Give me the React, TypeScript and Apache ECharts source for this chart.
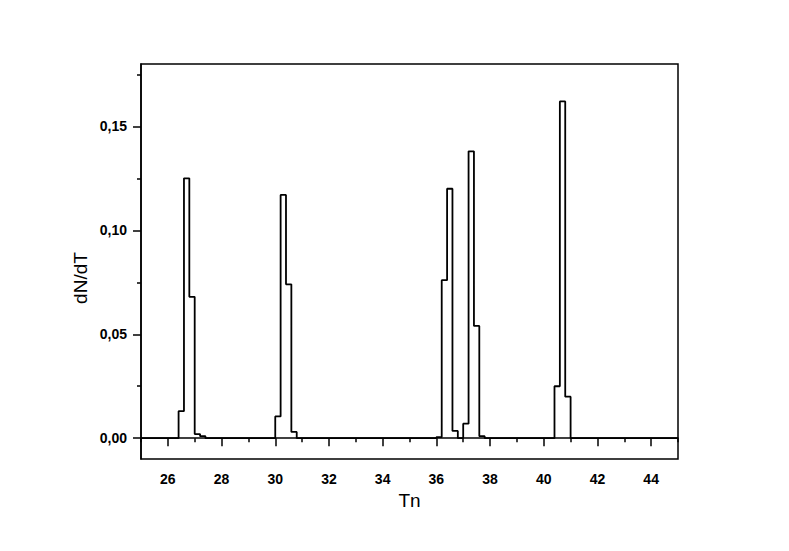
import React, { useEffect, useRef } from "react";
import * as echarts from "echarts";

// Histogram steps: left edge of each step and its height (step holds until next edge)
const stepX = [
  25.0, 26.4, 26.6, 26.8, 27.0, 27.2, 27.4,
  30.0, 30.2, 30.4, 30.6, 30.8,
  36.0, 36.2, 36.4, 36.6, 36.8, 37.0, 37.2, 37.4, 37.6, 37.8,
  40.4, 40.6, 40.8, 41.0, 45.0,
];
const stepY = [
  0, 0.013, 0.125, 0.068, 0.002, 0.001, 0,
  0.0105, 0.117, 0.074, 0.003, 0,
  0.0005, 0.076, 0.12, 0.0035, 0, 0.007, 0.138, 0.054, 0.001, 0,
  0.025, 0.162, 0.02, 0, 0,
];

const xMajorTicks = [26, 28, 30, 32, 34, 36, 38, 40, 42, 44];
const xMinorTicks = [25, 27, 29, 31, 33, 35, 37, 39, 41, 43, 45];
const yMajorTicks = [0, 0.05, 0.1, 0.15];
const yMinorTicks = [0.025, 0.075, 0.125, 0.175];

const X_MIN = 25;
const X_MAX = 45;
const Y_MIN = -0.01;
const Y_MAX = 0.18;

const X_TITLE = "Tn";
const Y_TITLE = "dN/dT";

const FONT = "'Liberation Sans', Arial, sans-serif";

export default function App() {
  const ref = useRef<HTMLDivElement>(null);

  useEffect(() => {
    if (!ref.current) return;
    const chart = echarts.init(ref.current, undefined, { renderer: "svg" });
    const data = stepX.map((x, i) => [x, stepY[i]]);
    const axisLine = { show: true, lineStyle: { color: "#000", width: 1.5 } };
    chart.setOption({
      animation: false,
      backgroundColor: "#fff",
      grid: {
        left: 141,
        top: 64,
        width: 537,
        height: 395,
        show: true,
        borderColor: "#000",
        borderWidth: 1.5,
        backgroundColor: "transparent",
      },
      graphic: [
        {
          type: "text",
          x: 80,
          y: 278,
          rotation: Math.PI / 2,
          style: {
            text: Y_TITLE,
            fill: "#000",
            font: `19px ${FONT}`,
            align: "center",
            verticalAlign: "middle",
          },
        },
      ],
      xAxis: [
        {
          type: "value",
          min: X_MIN,
          max: X_MAX,
          position: "bottom",
          axisLine,
          splitLine: { show: false },
          axisTick: {
            show: true,
            inside: false,
            length: 8,
            lineStyle: { color: "#000", width: 1.5 },
            customValues: xMajorTicks,
          },
          axisLabel: {
            customValues: xMajorTicks,
            margin: 13,
            color: "#000",
            fontFamily: FONT,
            fontWeight: "bold",
            fontSize: 14,
            formatter: (v: number) => String(v),
          },
          name: X_TITLE,
          nameLocation: "middle",
          nameGap: 22,
          nameTextStyle: { color: "#000", fontFamily: FONT, fontSize: 19 },
        },
        {
          type: "value",
          min: X_MIN,
          max: X_MAX,
          position: "bottom",
          axisLine: { show: false },
          splitLine: { show: false },
          axisTick: {
            show: true,
            inside: false,
            length: 4,
            lineStyle: { color: "#000", width: 1.5 },
            customValues: xMinorTicks,
          },
          axisLabel: { show: false },
        },
      ],
      yAxis: [
        {
          type: "value",
          min: Y_MIN,
          max: Y_MAX,
          position: "left",
          axisLine,
          splitLine: { show: false },
          axisTick: {
            show: true,
            inside: false,
            length: 8,
            lineStyle: { color: "#000", width: 1.5 },
            customValues: yMajorTicks,
          },
          axisLabel: {
            customValues: yMajorTicks,
            margin: 14,
            color: "#000",
            fontFamily: FONT,
            fontWeight: "bold",
            fontSize: 14,
            formatter: (v: number) => v.toFixed(2).replace(".", ","),
          },
        },
        {
          type: "value",
          min: Y_MIN,
          max: Y_MAX,
          position: "left",
          axisLine: { show: false },
          splitLine: { show: false },
          axisTick: {
            show: true,
            inside: false,
            length: 4,
            lineStyle: { color: "#000", width: 1.5 },
            customValues: yMinorTicks,
          },
          axisLabel: { show: false },
        },
      ],
      series: [
        {
          type: "line",
          step: "end",
          data,
          xAxisIndex: 0,
          yAxisIndex: 0,
          showSymbol: false,
          symbol: "none",
          lineStyle: { color: "#000", width: 1.8 },
          clip: true,
        },
      ],
    });
    return () => chart.dispose();
  }, []);

  return (
    <div
      ref={ref}
      style={{ position: "absolute", left: 0, top: 0, width: 789, height: 551 }}
    />
  );
}
